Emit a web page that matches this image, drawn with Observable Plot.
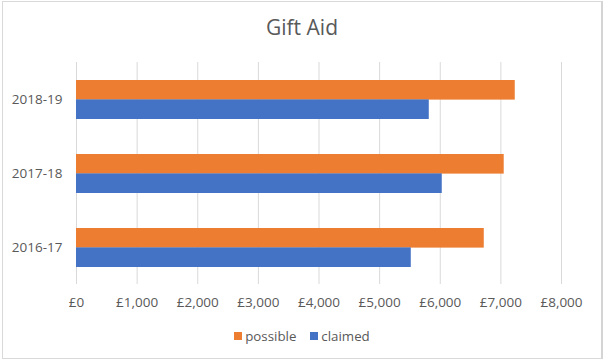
<!DOCTYPE html>
<html>
<head>
<meta charset="utf-8">
<script src="https://cdn.jsdelivr.net/npm/d3@7"></script>
<script src="https://cdn.jsdelivr.net/npm/@observablehq/plot@0.6"></script>
<style>
  html, body { margin: 0; padding: 0; background: #fff; }
  #wrap { position: relative; width: 604px; height: 361px; overflow: hidden; background: #fff; font-family: "Open Sans", sans-serif; color: #595959; }
  #frame { position: absolute; left: 2px; top: 1px; width: 598px; height: 356px; border: 1px solid #d9d9d9; border-right: 2px solid #d4d4d4; }
  #title { position: absolute; left: 0; top: 12px; width: 604px; text-align: center; font-size: 21px; line-height: 30px; color: #595959; }
  #chart { position: absolute; left: 0; top: 0; }
  #legend { position: absolute; left: 0; top: 326px; width: 604px; display: flex; justify-content: center; gap: 14px; font-size: 13.3px; line-height: 20px; }
  #legend span.item { display: inline-flex; align-items: center; }
  #legend span.sw { display: inline-block; width: 8px; height: 8px; margin-right: 3px; }
</style>
</head>
<body>
<div id="wrap">
  <div id="frame"></div>
  <div id="chart"></div>
  <div id="title">Gift Aid</div>
  <div id="legend"></div>
</div>
<script>
const title = "Gift Aid";
const years = ["2018-19", "2017-18", "2016-17"];
const possible = [7237, 7055, 6726];
const claimed = [5819, 6033, 5522];
const xTicks = [0, 1000, 2000, 3000, 4000, 5000, 6000, 7000, 8000];
const seriesNames = ["possible", "claimed"];
const seriesColors = ["#ED7D31", "#4472C4"];

const rowsPossible = years.map((y, i) => ({year: y, value: possible[i]}));
const rowsClaimed = years.map((y, i) => ({year: y, value: claimed[i]}));

const W = 604, H = 361;
const mTop = 62, mBottom = H - 284, mLeft = 76, mRight = W - 561;
const step = (H - mTop - mBottom) / 3;
const pInner = 0.476;
const half = step * (1 - pInner) / 2;

const fmt = d => "£" + d3.format(",")(d);

const plot = Plot.plot({
  width: W,
  height: H,
  marginTop: mTop,
  marginBottom: mBottom,
  marginLeft: mLeft,
  marginRight: mRight,
  style: {fontFamily: "Open Sans, sans-serif", fontSize: "13.5px", color: "#595959", background: "transparent"},
  x: {domain: [0, 8000]},
  y: {domain: years, paddingInner: pInner, paddingOuter: pInner / 2},
  marks: [
    Plot.gridX(xTicks, {stroke: "#d9d9d9", strokeOpacity: 1, strokeWidth: 1}),
    Plot.barX(rowsPossible, {x: "value", y: "year", fill: seriesColors[0], insetBottom: half, insetTop: 0}),
    Plot.barX(rowsClaimed, {x: "value", y: "year", fill: seriesColors[1], insetTop: half, insetBottom: 0}),
    Plot.axisX(xTicks, {tickSize: 0, tickPadding: 12.5, tickFormat: fmt, label: null, fill: "#595959"}),
    Plot.axisY(years, {tickSize: 0, tickPadding: 14, label: null, fill: "#595959"})
  ]
});
document.getElementById("chart").appendChild(plot);
document.getElementById("title").textContent = title;

const legend = document.getElementById("legend");
seriesNames.forEach((name, i) => {
  const item = document.createElement("span");
  item.className = "item";
  const sw = document.createElement("span");
  sw.className = "sw";
  sw.style.background = seriesColors[i];
  item.appendChild(sw);
  item.appendChild(document.createTextNode(name));
  legend.appendChild(item);
});
</script>
</body>
</html>
